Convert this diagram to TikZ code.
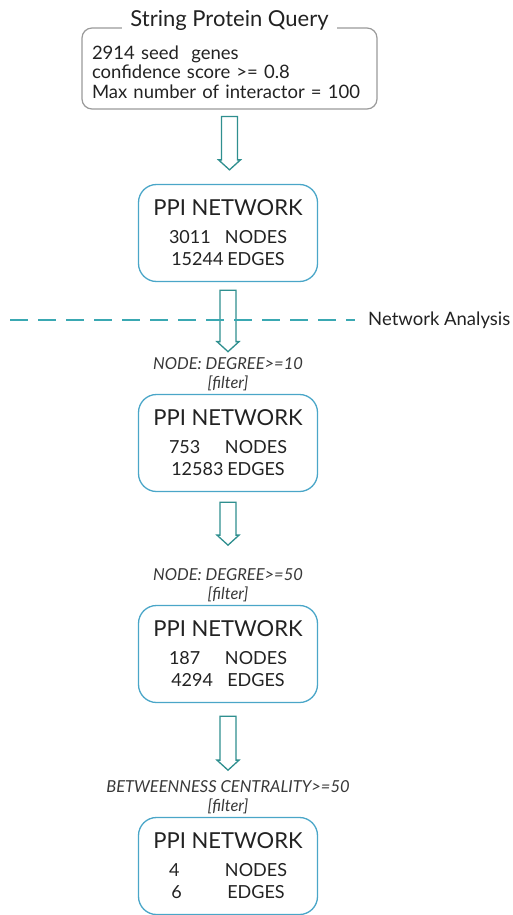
\documentclass[tikz,border=0pt]{standalone}
\usepackage{fontspec}
\setmainfont{Lato}
\usetikzlibrary{calc}

\definecolor{ppiblue}{HTML}{4AA6C8}
\definecolor{flowteal}{HTML}{2F8F8F}
\definecolor{dashteal}{HTML}{3AA8B2}
\definecolor{querygray}{HTML}{9A9A9A}
\definecolor{textgray}{HTML}{222222}

\newcommand{\ppistats}[2]{{\fontsize{22}{24}\selectfont PPI NETWORK}\\[6pt]\makebox[56pt][l]{#1}NODES\\\makebox[56pt][l]{#2}EDGES}
\newcommand{\ppiarrow}[2]{\draw[flowarrow] let \p1=#1, \p2=#2 in (\x1-8pt,\y1) -- (\x1-8pt,\y2+10pt) -- (\x1-11pt,\y2+10pt) -- (\x1,\y2) -- (\x1+11pt,\y2+10pt) -- (\x1+8pt,\y2+10pt) -- (\x1+8pt,\y1) -- cycle;}

\begin{document}
\begin{tikzpicture}[x=1pt,y=-1pt,
  querybox/.style={draw=querygray,line width=1.2pt,rounded corners=10pt,minimum width=295pt,minimum height=81pt,text width=275pt,align=left,inner xsep=10pt,inner ysep=7pt,font=\fontsize{18.5}{19.5}\selectfont,text=textgray},
  querytitle/.style={fill=white,inner xsep=8pt,inner ysep=2pt,font=\fontsize{22}{24}\selectfont,text=textgray},
  ppibox/.style={draw=ppiblue,line width=1.3pt,rounded corners=18pt,minimum width=179pt,minimum height=97pt,align=center,inner sep=4pt,font=\fontsize{18}{22}\selectfont,text=textgray},
  filterlabel/.style={align=center,inner sep=2pt,font=\fontsize{16.5}{19}\selectfont\itshape,text=textgray!90},
  flowarrow/.style={draw=flowteal,line width=1.3pt,fill=white,line join=miter},
  analysisline/.style={draw=dashteal,line width=1.6pt,dash pattern=on 18pt off 10pt}]
\useasboundingbox (0,0) rectangle (512,915);
\coordinate (Q) at (229.5,68.5);
\coordinate (B2) at (228,233);
\coordinate (B3) at (228,443);
\coordinate (B4) at (228,654);
\coordinate (B5) at (228,866);
\coordinate (F1) at (228,374.5);
\coordinate (F2) at (228,585);
\coordinate (F3) at (228,797);
\node[querybox] (q) at (Q) {\rule{0pt}{21pt}2914 seed\ \ genes\\confidence score >= 0.8\\Max number of interactor = 100};
\node[querytitle] (qt) at ($(q.north)+(0,-7)$) {String Protein Query};
\node[ppibox] (b2) at (B2) {\ppistats{3011}{15244}};
\node[filterlabel] (f1) at (F1) {NODE: DEGREE>=10\\{[filter]}};
\node[ppibox] (b3) at (B3) {\ppistats{753}{12583}};
\node[filterlabel] (f2) at (F2) {NODE: DEGREE>=50\\{[filter]}};
\node[ppibox] (b4) at (B4) {\ppistats{187}{4294}};
\node[filterlabel] (f3) at (F3) {BETWEENNESS CENTRALITY>=50\\{[filter]}};
\node[ppibox] (b5) at (B5) {\ppistats{4}{6}};
\ppiarrow{($(q.south)+(0,7)$)}{($(b2.north)+(0,-14)$)}
\ppiarrow{($(b2.south)+(0,8)$)}{($(f1.north)+(0,-4)$)}
\ppiarrow{($(b3.south)+(0,10)$)}{($(f2.north)+(0,-21)$)}
\ppiarrow{($(b4.south)+(0,13)$)}{($(f3.north)+(0,-8)$)}
\coordinate (dl) at (10,320);
\node[anchor=west,inner sep=0pt,font=\fontsize{18.5}{22}\selectfont,text=textgray] (na) at (368,320) {Network Analysis};
\draw[analysisline] (dl) -- ($(na.west)+(-13,0)$);
\end{tikzpicture}
\end{document}
